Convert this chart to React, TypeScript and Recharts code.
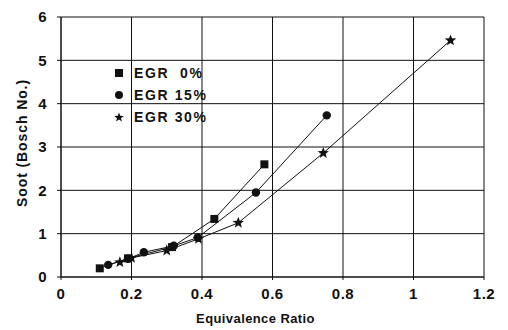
import { ScatterChart, Scatter, XAxis, YAxis, CartesianGrid, Legend } from 'recharts';

// Soot vs equivalence ratio for three EGR rates
const egr0 = [
  { x: 0.11, y: 0.2 },
  { x: 0.19, y: 0.43 },
  { x: 0.315, y: 0.69 },
  { x: 0.435, y: 1.34 },
  { x: 0.577, y: 2.6 },
];
const egr15 = [
  { x: 0.134, y: 0.28 },
  { x: 0.19, y: 0.42 },
  { x: 0.235, y: 0.57 },
  { x: 0.32, y: 0.72 },
  { x: 0.388, y: 0.91 },
  { x: 0.553, y: 1.95 },
  { x: 0.754, y: 3.73 },
];
const egr30 = [
  { x: 0.167, y: 0.34 },
  { x: 0.2, y: 0.44 },
  { x: 0.3, y: 0.61 },
  { x: 0.39, y: 0.88 },
  { x: 0.503, y: 1.25 },
  { x: 0.744, y: 2.86 },
  { x: 1.105, y: 5.46 },
];
const xTicks = [0, 0.2, 0.4, 0.6, 0.8, 1, 1.2];
const yTicks = [0, 1, 2, 3, 4, 5, 6];
const seriesNames = ['EGR  0%', 'EGR 15%', 'EGR 30%'];

const FONT = '"Liberation Sans", Arial, sans-serif';
const INK = '#111';

function starPoints(cx: number, cy: number, r: number) {
  const pts: string[] = [];
  for (let i = 0; i < 10; i++) {
    const rad = i % 2 === 0 ? r : r * 0.42;
    const a = -Math.PI / 2 + (i * Math.PI) / 5;
    pts.push(`${cx + rad * Math.cos(a)},${cy + rad * Math.sin(a)}`);
  }
  return pts.join(' ');
}

const SquareDot = (p: any) => <rect x={p.cx - 4} y={p.cy - 4} width={8} height={8} fill={INK} />;
const CircleDot = (p: any) => <circle cx={p.cx} cy={p.cy} r={4.2} fill={INK} />;
const StarDot = (p: any) => <polygon points={starPoints(p.cx, p.cy, 6)} fill={INK} />;

const legendIcons = [
  <rect x={1} y={1} width={8} height={8} fill={INK} />,
  <circle cx={5} cy={5} r={4} fill={INK} />,
  <polygon points={starPoints(5, 5.5, 5)} fill={INK} />,
];

function LegendBox() {
  return (
    <div style={{ fontFamily: FONT, fontWeight: 700, fontSize: 14, color: INK }}>
      {seriesNames.map((name, i) => (
        <div key={name} style={{ display: 'flex', alignItems: 'center', height: 22 }}>
          <svg width={10} height={10} style={{ marginRight: 10 }}>{legendIcons[i]}</svg>
          <span style={{ whiteSpace: 'pre', letterSpacing: 1.6 }}>{name}</span>
        </div>
      ))}
    </div>
  );
}

const tickStyle = { fill: INK, fontSize: 15, fontWeight: 700, fontFamily: FONT, letterSpacing: 0.5 };

export default function App() {
  return (
    <div style={{ width: 508, height: 330, background: '#fff' }}>
      <style>{'body{margin:0;background:#fff}'}</style>
      <ScatterChart width={508} height={330} margin={{ top: 17, right: 24, left: 0, bottom: 0 }}>
        <CartesianGrid stroke={INK} strokeWidth={1} />
        <XAxis
          type="number"
          dataKey="x"
          domain={[0, 1.2]}
          ticks={xTicks}
          height={53}
          tickSize={3}
          tickMargin={8}
          stroke={INK}
          tick={tickStyle}
          label={{
            content: ({ viewBox }: any) => (
              <text
                x={viewBox.x + viewBox.width / 2 - 17}
                y={viewBox.y + 46}
                textAnchor="middle"
                fill={INK}
                style={{ fontFamily: FONT, fontWeight: 700, fontSize: 13, letterSpacing: 0.4 }}
              >
                Equivalence Ratio
              </text>
            ),
          }}
        />
        <YAxis
          type="number"
          dataKey="y"
          domain={[0, 6]}
          ticks={yTicks}
          width={61}
          tickSize={4}
          tickMargin={10}
          stroke={INK}
          tick={tickStyle}
          label={{
            content: ({ viewBox }: any) => {
              const cx = viewBox.x + 22;
              const cy = viewBox.y + viewBox.height / 2 - 4;
              return (
                <text
                  x={cx}
                  y={cy}
                  transform={`rotate(-90, ${cx}, ${cy})`}
                  textAnchor="middle"
                  dominantBaseline="central"
                  fill={INK}
                  style={{ fontFamily: FONT, fontWeight: 700, fontSize: 14, letterSpacing: 0.9 }}
                >
                  Soot (Bosch No.)
                </text>
              );
            },
          }}
        />
        <Legend
          layout="vertical"
          align="center"
          verticalAlign="middle"
          wrapperStyle={{ top: 62, left: 114, width: 'auto' }}
          content={() => <LegendBox />}
        />
        <Scatter name={seriesNames[0]} data={egr0} line={{ stroke: INK, strokeWidth: 1 }} shape={SquareDot} isAnimationActive={false} />
        <Scatter name={seriesNames[1]} data={egr15} line={{ stroke: INK, strokeWidth: 1 }} shape={CircleDot} isAnimationActive={false} />
        <Scatter name={seriesNames[2]} data={egr30} line={{ stroke: INK, strokeWidth: 1 }} shape={StarDot} isAnimationActive={false} />
      </ScatterChart>
    </div>
  );
}
